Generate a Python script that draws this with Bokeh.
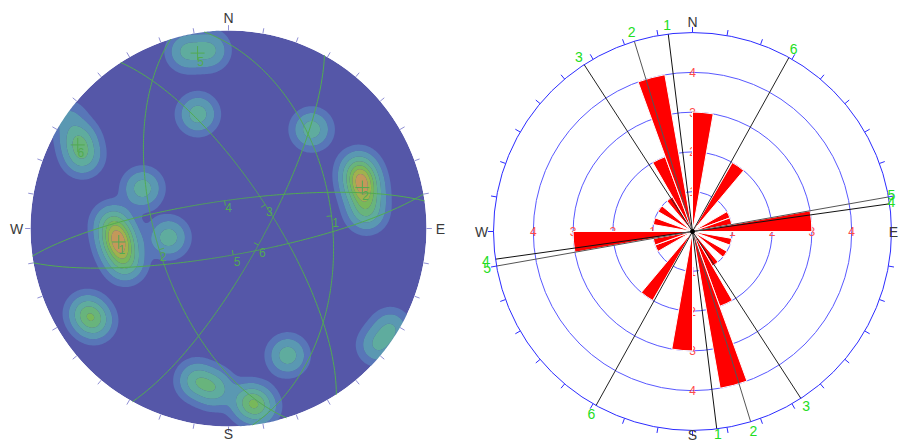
import numpy as np
from bokeh.plotting import figure
from bokeh.layouts import row
from bokeh.models import Range1d
from bokeh.embed import file_html
from bokeh.resources import INLINE
from bokeh.core.properties import value

# ---------------- Stereonet data (equal-area, lower hemisphere) ----------------
plane_ids = ["1", "2", "3", "4", "5", "6"]
plane_dipdir = [83, 253, 57, 352, 170, 119]
plane_dip = [46.5, 60, 72, 78.5, 79, 76]
poles_marked = ["1", "2", "5", "6"]

pole_trend = [346.7, 353.9, 345, 40, 300.7, 296.3, 304.5, 295,
              273, 266.9, 263, 258.5, 251.2, 261.5,
              65.2, 69.3, 72.6, 76.8, 83.4, 239.4, 235.2, 155,
              128.1, 121.7, 191.9, 185.0, 173.4, 170.4]
pole_plunge = [9.0, 10.5, 40, 35, 12.9, 18.9, 2, 50.4,
               41, 42.8, 43.5, 43.6, 44.3, 65,
               28.5, 29.4, 29.8, 30.1, 30.5, 17.8, 18.7, 30,
               4.9, 4.3, 22.6, 20.0, 13.1, 9.7]
pole_weight = [0.85, 0.85, 1, 1, 1, 1, 0.4, 1,
               1, 1, 1, 1, 1, 1,
               1, 1, 1, 1, 1, 1, 1, 1,
               0.75, 0.75, 1, 1, 1, 1]

density_levels = [0.12, 0.35, 0.75, 1.2, 1.65, 2.05, 2.45, 50]
density_colors = ["#5876b8", "#5a98b2", "#5fac9e", "#68b47c",
                  "#78b85a", "#a0b24e", "#c4985a"]
cardinals = ["N", "E", "S", "W"]

# ---------------- Rose data (strike counts, 10 degree bins, bidirectional) ----------------
rose_bin_start = list(range(0, 180, 10))
rose_counts = [3, 0, 0, 2, 0, 0, 1, 1, 3, 0, 1, 0, 1, 0, 1, 2, 4, 0]
rose_rings = [1, 2, 3, 4]
rose_outer = 5

BASE = "#5557a8"
GC_GREEN = "#52aa52"
FONT = value("Liberation Sans")


def proj(trend, plunge):
    t = np.radians(np.asarray(trend, dtype=float))
    r = np.sqrt(2) * np.sin(np.radians(90 - np.asarray(plunge, dtype=float)) / 2)
    return r * np.sin(t), r * np.cos(t)


def make_fig(w, h, xr, yr):
    f = figure(width=w, height=h, output_backend="svg", toolbar_location=None,
               x_range=Range1d(*xr), y_range=Range1d(*yr), min_border=0)
    f.axis.visible = False
    f.grid.visible = False
    f.outline_line_color = None
    f.background_fill_color = "white"
    f.border_fill_color = "white"
    return f


# ================= Left: stereonet =================
S = 198.0
L = make_fig(450, 444, (-228 / S, 222 / S), (-216 / S, 228 / S))

L.circle(x=[0], y=[0], radius=1, fill_color=BASE, line_color=None)

px, py = proj(pole_trend, pole_plunge)
g = np.linspace(-1.1, 1.1, 331)
X, Y = np.meshgrid(g, g)
sig = 11.3 / S
Z = np.zeros_like(X)
for xx, yy, ww in zip(px, py, pole_weight):
    Z += ww * np.exp(-((X - xx) ** 2 + (Y - yy) ** 2) / (2 * sig ** 2))
L.contour(x=g, y=g, z=Z, levels=density_levels, fill_color=density_colors)

# white mask outside the primitive circle
th = np.linspace(0, 2 * np.pi, 721)
L.multi_polygons(xs=[[[[-3, 3, 3, -3], list(np.cos(th))]]],
                 ys=[[[[-3, -3, 3, 3], list(np.sin(th))]]],
                 fill_color="white", line_color=None)

# great circles
a = np.linspace(-90, 90, 241)
dvx, dvy = [], []
for dd, dp in zip(plane_dipdir, plane_dip):
    tr = dd + a
    pl = np.degrees(np.arctan(np.tan(np.radians(dp)) * np.cos(np.radians(a))))
    gx, gy = proj(tr, pl)
    L.line(gx, gy, line_color=GC_GREEN, line_width=1)
    vx, vy = proj(dd, dp)
    dvx.append(float(vx)); dvy.append(float(vy))
    rr = np.hypot(vx, vy)
    L.segment(x0=[vx], y0=[vy], x1=[vx * (rr - 0.025) / rr], y1=[vy * (rr - 0.025) / rr],
              line_color=GC_GREEN, line_width=1)
L.text(x=dvx, y=dvy, text=plane_ids, x_offset=4, y_offset=7, text_align="center",
       text_baseline="middle", text_font=FONT, text_font_size="12px", text_color=GC_GREEN)

# marked poles
mk = [plane_ids.index(k) for k in poles_marked]
mx, my = proj([plane_dipdir[i] + 180 for i in mk], [90 - plane_dip[i] for i in mk])
L.scatter(x=mx, y=my, marker="cross", size=14, line_color=GC_GREEN, line_width=1)
L.text(x=mx, y=my, text=poles_marked, x_offset=3, y_offset=8, text_align="center",
       text_baseline="middle", text_font=FONT, text_font_size="12px", text_color=GC_GREEN)

# ticks and cardinal labels
tk = np.radians(np.arange(0, 360, 10))
L.segment(x0=np.sin(tk), y0=np.cos(tk), x1=1.027 * np.sin(tk), y1=1.027 * np.cos(tk),
          line_color="#9090d4", line_width=1)
ca = np.radians([0, 90, 180, 270])
card_r = [1.062, 1.07, 1.04, 1.07]
L.text(x=[r * np.sin(c) for r, c in zip(card_r, ca)], y=[r * np.cos(c) for r, c in zip(card_r, ca)],
       text=cardinals, text_align="center", text_baseline="middle", text_font=FONT,
       text_font_size="14px", text_color="#3a3a3a")

# ================= Right: rose diagram =================
K = 39.8
R = make_fig(451, 444, (-242 / K, 209 / K), (-213 / K, 231 / K))

R.circle(x=[0] * len(rose_rings), y=[0] * len(rose_rings), radius=rose_rings,
         fill_color=None, line_color="#5858ff", line_width=1)
rl_x, rl_y, rl_t = [], [], []
for k in rose_rings:
    for ang in (0, 90, 180, 270):
        rl_x.append(k * np.sin(np.radians(ang)))
        rl_y.append(k * np.cos(np.radians(ang)))
        rl_t.append(str(k))
R.text(x=rl_x, y=rl_y, text=rl_t, text_align="center", text_baseline="middle",
       text_font=FONT, text_font_size="12px", text_color="#ff4a4a")

w_start, w_end, w_rad = [], [], []
for b, c in zip(rose_bin_start, rose_counts):
    if c <= 0:
        continue
    for az in (b, b + 180):
        w_start.append(np.radians(90 - (az + 10)))
        w_end.append(np.radians(90 - az))
        w_rad.append(c)
R.wedge(x=[0] * len(w_rad), y=[0] * len(w_rad), radius=w_rad, start_angle=w_start,
        end_angle=w_end, fill_color="#ff0000", line_color="white", line_width=1)

strikes = [(dd - 90) % 360 for dd in plane_dipdir]
sr = np.radians(strikes)
line_cols = ["#111111", "#555555", "#222222", "#111111", "#555555", "#222222"]
R.segment(x0=rose_outer * np.sin(sr), y0=rose_outer * np.cos(sr),
          x1=-rose_outer * np.sin(sr), y1=-rose_outer * np.cos(sr),
          line_color=line_cols, line_width=1)
R.scatter(x=[0], y=[0], size=4, color="black")

R.circle(x=[0], y=[0], radius=rose_outer, fill_color=None, line_color="#2b2bff", line_width=1)
R.segment(x0=rose_outer * np.sin(tk), y0=rose_outer * np.cos(tk),
          x1=(rose_outer + 0.14) * np.sin(tk), y1=(rose_outer + 0.14) * np.cos(tk),
          line_color="#2b2bff", line_width=1)

lab_r = 5.24
x_max = 5.0
gl_x = [min(v, x_max) for v in list(lab_r * np.sin(sr)) + list(-lab_r * np.sin(sr))]
gl_y = list(lab_r * np.cos(sr)) + list(-np.minimum(lab_r * np.cos(sr), 5.1) * 1.0)
gl_y = [max(v, -5.12) for v in gl_y]
R.text(x=gl_x, y=gl_y, text=plane_ids + plane_ids, text_align="center",
       text_baseline="middle", text_font=FONT, text_font_size="14px", text_color="#22dd22")
rc_r = [5.27, 5.05, 5.12, 5.3]
R.text(x=[r * np.sin(c) for r, c in zip(rc_r, ca)], y=[r * np.cos(c) for r, c in zip(rc_r, ca)],
       text=cardinals, text_align="center", text_baseline="middle", text_font=FONT,
       text_font_size="14px", text_color="#3a3a3a")

layout = row(L, R)
open("out.html", "w").write(file_html(layout, INLINE))
